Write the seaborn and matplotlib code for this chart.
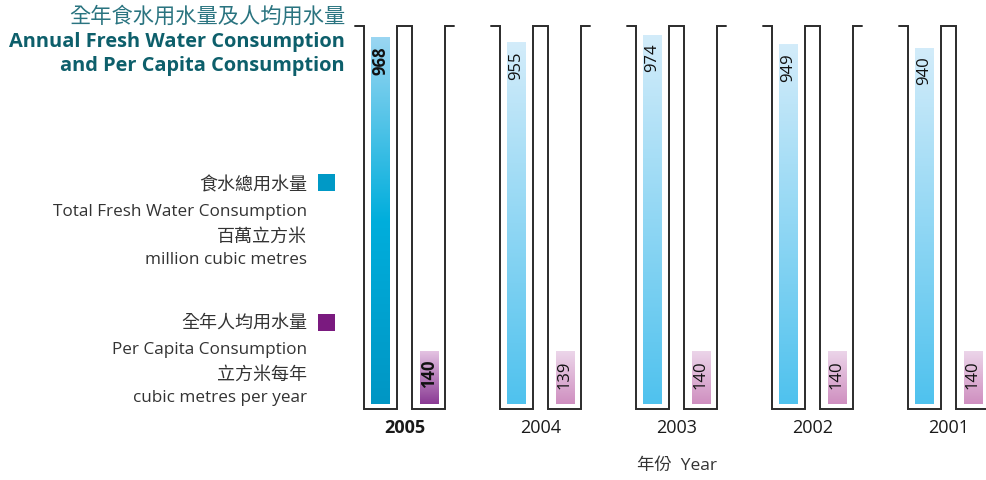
import numpy as np
import pandas as pd
import matplotlib
matplotlib.use("Agg")
import matplotlib.pyplot as plt
import seaborn as sns
from matplotlib.colors import LinearSegmentedColormap
from matplotlib.patches import Rectangle

# 數據
years = ["2005", "2004", "2003", "2002", "2001"]
total_water = [968, 955, 974, 949, 940]   # 百萬立方米
per_capita = [140, 139, 140, 140, 140]    # 立方米每年
series = ["total", "capita"]

W, H = 987, 481
PX_PER_UNIT = 0.379   # y 軸每單位像素
BASE_PX = 405         # 零值所在像素
GROUP_PX = 136        # 每年組距
GROUP0_PX = 404.5     # 第一組中心


def fxy(x, y):
    return x / W, 1 - y / H


def px2val(y):
    return (BASE_PX - y) / PX_PER_UNIT


sns.set_theme(style="white")
plt.rcParams["font.family"] = ["Open Sans", "Noto Sans CJK TC", "DejaVu Sans"]

df = pd.DataFrame({
    "year": years * 2,
    "series": [series[0]] * len(years) + [series[1]] * len(years),
    "value": total_water + per_capita,
})

fig = plt.figure(figsize=(W / 100, H / 100), dpi=100)
ax = fig.add_axes([0, 0, 1, 1])

sns.barplot(data=df, x="year", y="value", hue="series", order=years,
            hue_order=series, width=0.72, gap=0.62, dodge=True,
            palette=["#4fc2ee", "#cf8fc0"], legend=False, ax=ax, errorbar=None)

grad = np.linspace(0, 1, 256).reshape(-1, 1)
cmaps = {
    ("total", True): LinearSegmentedColormap.from_list("b05", ["#0096c4", "#00aedc", "#9ad6f2"]),
    ("total", False): LinearSegmentedColormap.from_list("b", ["#4fc2ee", "#d3ecfa"]),
    ("capita", True): LinearSegmentedColormap.from_list("p05", ["#8a3a94", "#e6c6e4"]),
    ("capita", False): LinearSegmentedColormap.from_list("p", ["#cf8fc0", "#ecd6ea"]),
}

for p in list(ax.patches):
    x0, w, h = p.get_x(), p.get_width(), p.get_height()
    if h <= 0:
        continue
    xc = x0 + w / 2
    idx = int(round(xc))
    kind = "total" if xc < idx else "capita"
    latest = idx == 0
    im = ax.imshow(grad, cmap=cmaps[(kind, latest)], origin="lower", aspect="auto",
                   extent=[x0, x0 + w, 0, h], zorder=3)
    im.set_clip_path(p)
    ax.text(xc, h - 8 / PX_PER_UNIT, f"{h:.0f}", rotation=90, ha="center", va="top",
            fontsize=12, fontweight="bold" if latest else "normal",
            color="#111111", zorder=4)

# 試管外框
top_v, bot_v = px2val(27), px2val(410)
off, half, flange = 0.18, 16.5 / GROUP_PX, 9 / GROUP_PX
for i, yr in enumerate(years):
    c1, c2 = i - off, i + off
    xs = [c1 - half - flange, c1 - half, c1 - half, c1 + half, c1 + half,
          c2 - half, c2 - half, c2 + half, c2 + half, c2 + half + flange]
    ys = [top_v, top_v, bot_v, bot_v, top_v, top_v, bot_v, bot_v, top_v, top_v]
    ax.plot(xs, ys, color="#2b2b2b", lw=1.4, solid_joinstyle="miter", zorder=5)
    ax.text(i, px2val(428), yr, ha="center", va="center", fontsize=13,
            fontweight="bold" if i == 0 else "normal", color="#1a1a1a")

ax.set_xlim(-GROUP0_PX / GROUP_PX, (W - GROUP0_PX) / GROUP_PX)
ax.set_ylim(px2val(H), px2val(0))
ax.axis("off")

# 標題
fig.text(*fxy(345, 17), "全年食水用水量及人均用水量", ha="right", va="center",
         fontsize=15.3, color="#2a7480")
fig.text(*fxy(345, 42), "Annual Fresh Water Consumption", ha="right", va="center",
         fontsize=14.4, fontweight="bold", color="#0d5f6b")
fig.text(*fxy(345, 66), "and Per Capita Consumption", ha="right", va="center",
         fontsize=14.4, fontweight="bold", color="#0d5f6b")

# 圖例
legend_rows = [
    (["食水總用水量", "Total Fresh Water Consumption", "百萬立方米", "million cubic metres"],
     [185, 212, 237, 260], "#0099c6", 175),
    (["全年人均用水量", "Per Capita Consumption", "立方米每年", "cubic metres per year"],
     [323, 350, 375, 398], "#7a1a7f", 315),
]
for texts, ys, col, sq_y in legend_rows:
    for j, (t, y) in enumerate(zip(texts, ys)):
        size = 13 if j % 2 == 0 else 12.3
        fig.text(*fxy(307, y), t, ha="right", va="center", fontsize=size, color="#333333")
    x0, y0 = fxy(318, sq_y + 17)
    fig.patches.append(Rectangle((x0, y0), 17 / W, 17 / H, transform=fig.transFigure,
                                 facecolor=col, edgecolor="none"))

fig.text(*fxy(637, 466), "年份  Year", ha="left", va="center", fontsize=12.5, color="#333333")

fig.savefig("out.png", dpi=100)
